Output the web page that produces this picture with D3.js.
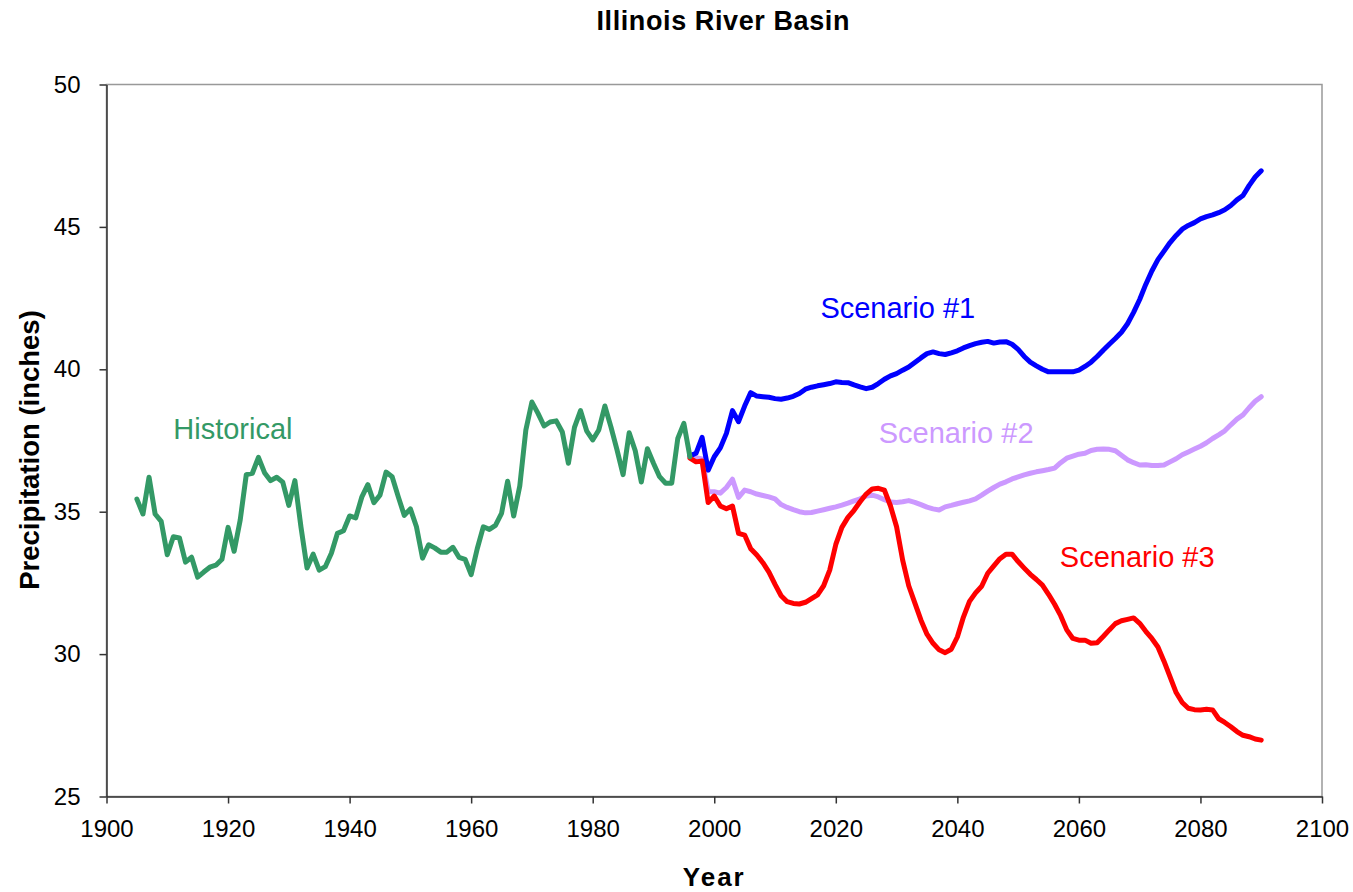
<!DOCTYPE html>
<html lang="en">
<head>
  <meta charset="UTF-8">
  <script type="text/javascript" src="https://cdn.jsdelivr.net/npm/d3@7/dist/d3.min.js"></script>
  <style>
    body { margin: 0; background: #fff; }
    svg { font-family: "Liberation Sans", Arial, sans-serif; }
    .axis path, .axis line { stroke: #333; stroke-width: 1.5; }
    .axis text { font-size: 24px; fill: #000; }
    .series { fill: none; stroke-width: 5; stroke-linejoin: round; stroke-linecap: round; }
  </style>
</head>
<body>

<svg></svg>

<script type="text/javascript">
  // historical record, one value per year
  var histStart = 1905;
  var historical = [
    35.44, 34.92, 36.21, 34.92, 34.66, 33.49, 34.12, 34.08, 33.23, 33.40,
    32.70, 32.88, 33.05, 33.12, 33.33, 34.45, 33.61, 34.71, 36.30, 36.35,
    36.91, 36.37, 36.09, 36.21, 36.04, 35.22, 36.09, 34.46, 33.02, 33.51,
    32.95, 33.07, 33.54, 34.24, 34.33, 34.85, 34.78, 35.51, 35.95, 35.32,
    35.58, 36.39, 36.23, 35.53, 34.87, 35.10, 34.47, 33.37, 33.84, 33.73,
    33.58, 33.58, 33.75, 33.40, 33.33, 32.79, 33.70, 34.47, 34.38, 34.52,
    34.94, 36.07, 34.85, 35.90, 37.87, 38.85, 38.45, 38.01, 38.15, 38.19,
    37.80, 36.70, 37.96, 38.55, 37.84, 37.52, 37.87, 38.71, 37.98, 37.17,
    36.30, 37.77, 37.14, 36.04, 37.21, 36.70, 36.23, 36.00, 36.00, 37.57,
    38.10, 36.93
  ];

  // scenarios, one value per year from 1996 to 2090
  var scenStart = 1996;
  var scenario1 = [
    36.96, 37.05, 37.61, 36.46, 36.93, 37.24, 37.75, 38.55, 38.16, 38.71,
    39.18, 39.06, 39.04, 39.02, 38.97, 38.95, 38.99, 39.05, 39.15, 39.30,
    39.37, 39.42, 39.46, 39.50, 39.56, 39.54, 39.53, 39.45, 39.38, 39.32,
    39.37, 39.50, 39.65, 39.77, 39.85, 39.97, 40.08, 40.24, 40.40, 40.55,
    40.61, 40.55, 40.52, 40.58, 40.65, 40.75, 40.83, 40.90, 40.95, 40.98,
    40.92, 40.96, 40.97, 40.88, 40.70, 40.45, 40.25, 40.12, 40.00, 39.91,
    39.91, 39.91, 39.91, 39.91, 39.97, 40.10, 40.25, 40.45, 40.67, 40.88,
    41.08, 41.30, 41.60, 42.00, 42.45, 42.98, 43.45, 43.85, 44.15, 44.45,
    44.70, 44.92, 45.05, 45.15, 45.28, 45.36, 45.42, 45.50, 45.60, 45.75,
    45.95, 46.10, 46.45, 46.75, 46.97
  ];
  var scenario2 = [
    36.96, 36.90, 36.85, 35.70, 35.70, 35.65, 35.85, 36.14, 35.50, 35.76,
    35.70, 35.62, 35.57, 35.52, 35.45, 35.25, 35.15, 35.07, 35.00, 34.96,
    34.97, 35.02, 35.07, 35.12, 35.17, 35.23, 35.30, 35.38, 35.45, 35.55,
    35.58, 35.52, 35.42, 35.34, 35.32, 35.35, 35.39, 35.33, 35.25, 35.16,
    35.10, 35.06, 35.17, 35.22, 35.28, 35.33, 35.38, 35.45, 35.58, 35.72,
    35.85, 35.97, 36.05, 36.15, 36.22, 36.29, 36.35, 36.40, 36.44, 36.48,
    36.53, 36.72, 36.88, 36.95, 37.02, 37.05, 37.15, 37.19, 37.20, 37.19,
    37.14, 36.98, 36.82, 36.72, 36.64, 36.65, 36.62, 36.62, 36.64, 36.75,
    36.86, 37.00, 37.10, 37.20, 37.30, 37.42, 37.57, 37.70, 37.84, 38.05,
    38.25, 38.40, 38.65, 38.88, 39.04
  ];
  var scenario3 = [
    36.88, 36.75, 36.78, 35.32, 35.55, 35.20, 35.10, 35.20, 34.24, 34.18,
    33.70, 33.48, 33.21, 32.88, 32.45, 32.05, 31.84, 31.78, 31.76, 31.82,
    31.95, 32.08, 32.40, 32.95, 33.85, 34.45, 34.80, 35.05, 35.35, 35.62,
    35.80, 35.82, 35.76, 35.20, 34.47, 33.30, 32.40, 31.80, 31.20, 30.70,
    30.38, 30.15, 30.05, 30.17, 30.60, 31.30, 31.85, 32.15, 32.38, 32.84,
    33.10, 33.35, 33.51, 33.51, 33.25, 33.02, 32.80, 32.62, 32.42, 32.10,
    31.75, 31.35, 30.85, 30.55, 30.49, 30.49, 30.38, 30.40, 30.62, 30.85,
    31.07, 31.17, 31.22, 31.27, 31.08, 30.80, 30.55, 30.25, 29.75, 29.20,
    28.65, 28.30, 28.10, 28.05, 28.04, 28.06, 28.04, 27.73, 27.60, 27.45,
    27.28, 27.15, 27.10, 27.02, 26.98
  ];

  var xTicks = [1900, 1920, 1940, 1960, 1980, 2000, 2020, 2040, 2060, 2080, 2100];
  var yTicks = [25, 30, 35, 40, 45, 50];

  // label text, position (in data units) and colour for each series
  var seriesNames = ["Historical", "Scenario #1", "Scenario #2", "Scenario #3"];
  var seriesColors = ["#339966", "#0000ff", "#cc99ff", "#ff0000"];
  var labelAt = [[1920.8, 37.55], [2030.2, 41.8], [2039.8, 37.4], [2069.6, 33.05]];

  function toPoints(start, values) {
    return values.map(function(v, i) { return {year: start + i, value: v}; });
  }

  function draw() {
    var margin = {top: 84.5, right: 31, bottom: 95.5, left: 106.5},
        width = 1353 - margin.left - margin.right,
        height = 892 - margin.top - margin.bottom;

    var svg = d3.select("svg")
      .attr("width", 1353)
      .attr("height", 892);

    var xScale = d3.scaleLinear().domain([1900, 2100]).range([0, width]);
    var yScale = d3.scaleLinear().domain([25, 50]).range([height, 0]);

    var inner = svg.append("g")
      .attr("transform", "translate(" + margin.left + "," + margin.top + ")");

    // light frame on top and right
    inner.append("rect")
      .attr("width", width)
      .attr("height", height)
      .attr("fill", "none")
      .attr("stroke", "#999")
      .attr("stroke-width", 1.5);

    var xAxis = d3.axisBottom(xScale).tickValues(xTicks).tickFormat(d3.format("d"))
      .tickSizeInner(7).tickSizeOuter(0).tickPadding(16);
    var yAxis = d3.axisLeft(yScale).tickValues(yTicks)
      .tickSizeInner(7).tickSizeOuter(0).tickPadding(19);

    inner.append("g").attr("class", "axis")
      .attr("transform", "translate(0," + height + ")")
      .call(xAxis);
    inner.append("g").attr("class", "axis").call(yAxis);

    var line = d3.line()
      .x(function(d) { return xScale(d.year); })
      .y(function(d) { return yScale(d.value); });

    var lines = [
      toPoints(histStart, historical),
      toPoints(scenStart, scenario1),
      toPoints(scenStart, scenario2),
      toPoints(scenStart, scenario3)
    ];

    // draw purple first so blue and red sit on top, historical last
    [2, 1, 3, 0].forEach(function(k) {
      inner.append("path")
        .datum(lines[k])
        .attr("class", "series")
        .attr("stroke", seriesColors[k])
        .attr("d", line);
    });

    // series labels
    seriesNames.forEach(function(name, k) {
      inner.append("text")
        .attr("x", xScale(labelAt[k][0]))
        .attr("y", yScale(labelAt[k][1]))
        .attr("text-anchor", "middle")
        .attr("font-size", "29")
        .attr("fill", seriesColors[k])
        .text(name);
    });

    // title
    svg.append("text")
      .attr("x", margin.left + width / 2 + 9)
      .attr("y", 30)
      .attr("text-anchor", "middle")
      .attr("font-size", "27")
      .attr("font-weight", "bold")
      .attr("letter-spacing", "0.6")
      .text("Illinois River Basin");

    // y axis label
    svg.append("text")
      .attr("transform", "rotate(-90)")
      .attr("x", -450)
      .attr("y", 39)
      .attr("text-anchor", "middle")
      .attr("font-size", "27.5")
      .attr("font-weight", "bold")
      .text("Precipitation (inches)");

    // x axis label
    svg.append("text")
      .attr("x", margin.left + xScale(2000))
      .attr("y", 886)
      .attr("text-anchor", "middle")
      .attr("font-size", "26")
      .attr("font-weight", "bold")
      .attr("letter-spacing", "2")
      .text("Year");
  }

  draw();
</script>
</body>
</html>
